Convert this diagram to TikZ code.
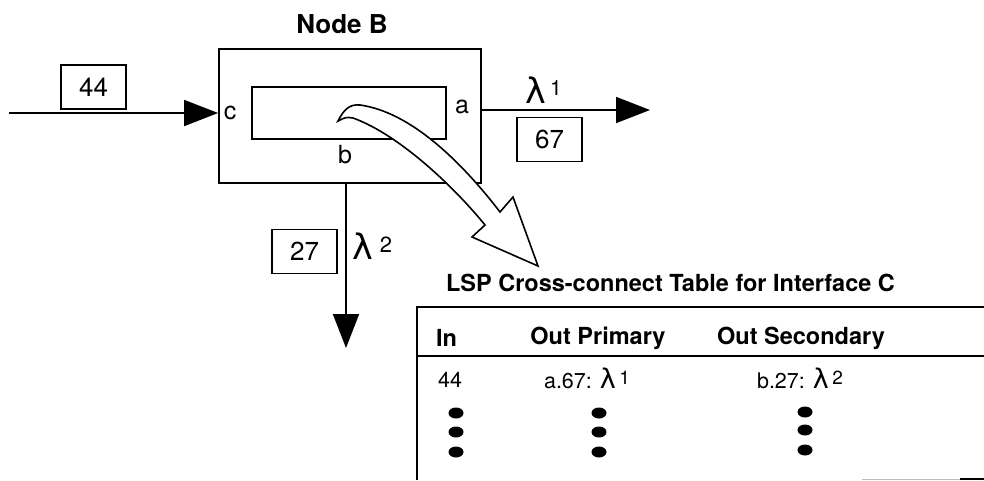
\documentclass[tikz,border=0pt]{standalone}
\usepackage{fontspec}
\setmainfont{TeX Gyre Heros}
\newfontfamily\lamfont{DejaVu Sans}
\usetikzlibrary{arrows.meta}
\begin{document}
\begin{tikzpicture}[x=1pt,y=-1pt,
  thick line/.style={line width=1.8pt},
  tag/.style={draw, line width=1.7pt, minimum width=65pt, minimum height=44pt, inner sep=0pt, font=\fontsize{26}{30}\selectfont},
  port/.style={inner sep=0pt, font=\fontsize{25}{28}\selectfont},
  lam/.style={inner sep=0pt, font=\fontsize{35}{38}\selectfont\lamfont},
  sup/.style={inner sep=0pt, font=\fontsize{21}{24}\selectfont},
  title/.style={inner sep=0pt, font=\fontsize{23.5}{28}\selectfont\bfseries},
  cell/.style={inner sep=0pt, font=\fontsize{21.5}{24}\selectfont},
  arr/.style={thick line, -{Triangle[length=34pt,width=26pt]}},
  dot/.style={fill=black}
]
\useasboundingbox (0,0) rectangle (984,480);

% Node B
\node[inner sep=0pt, font=\fontsize{26}{30}\selectfont\bfseries] (nbt) at (342,24) {Node B};
\node[draw, thick line, minimum width=262pt, minimum height=134pt, inner sep=0pt] (nodeB) at (350,116) {};
\node[draw, thick line, minimum width=194pt, minimum height=52pt, inner sep=0pt] (inner) at (349,113) {};
\node[port] (pc) at (230,113) {c};
\node[port] (pa) at (462,107) {a};
\node[port] (pb) at (345,155) {b};

% input
\coordinate (in) at (9,113);
\draw[arr] (in) -- (in -| nodeB.west);
\node[tag] (l44) at (93.5,87) {44};

% output a
\coordinate (outA) at (650,110);
\draw[arr] (outA -| nodeB.east) -- (outA);
\node[tag] (l67) at (549.5,139.5) {67};
\node[lam] (lam1) at (535.5,90.5) {λ};
\node[sup] (s1) at (556,88.5) {1};

% output b
\coordinate (outB) at (346,348);
\draw[arr] (nodeB.south -| outB) -- (outB);
\node[tag] (l27) at (304.5,251.5) {27};
\node[lam] (lam2) at (362.5,246.5) {λ};
\node[sup, font=\fontsize{22}{24}\selectfont] (s2) at (386,245) {2};

% hollow curved arrow
\draw[line width=1.6pt, fill=white, line join=miter]
  (338,121) .. controls (344,109) and (350,104) .. (360,105)
  .. controls (410,112) and (460,160) .. (500,212)
  -- (513,197) -- (538,266) -- (472,237) -- (485,225)
  .. controls (455,188) and (400,135) .. (353,118)
  .. controls (346,117) .. (338,121) -- cycle;

% table
\node[title] (ttl) at (670.5,283) {LSP Cross-connect Table for Interface C};
\draw[thick line] (984,307) -- (417,307) -- (417,480);
\draw[thick line] (417,356) -- (984,356);
\node[title, anchor=west] (hin) at (436,338) {In};
\node[title] (hop) at (598,338) {Out Primary};
\node[title] (hos) at (801,338) {Out Secondary};
\node[cell, anchor=west] (r44) at (438,380) {44};
\node[cell] (rop) at (587,378) {a.67: {\fontsize{27}{30}\selectfont\lamfont λ}\,\raisebox{4pt}{\fontsize{19}{20}\selectfont 1}};
\node[cell] (ros) at (800,378) {b.27: {\fontsize{27}{30}\selectfont\lamfont λ}\,\raisebox{4pt}{\fontsize{19}{20}\selectfont 2}};
\foreach \y in {413,432,452} {
  \fill[dot] (456,\y) ellipse [x radius=7.5pt, y radius=5.5pt];
  \fill[dot] (599,\y) ellipse [x radius=7.5pt, y radius=5.5pt];
}
\foreach \y in {412,430,450} {
  \fill[dot] (805,\y) ellipse [x radius=7.5pt, y radius=5.5pt];
}
\draw[line width=1pt, black!25] (862,479) -- (960,479);
\draw[line width=2pt] (960,479) -- (984,479);
\end{tikzpicture}
\end{document}
